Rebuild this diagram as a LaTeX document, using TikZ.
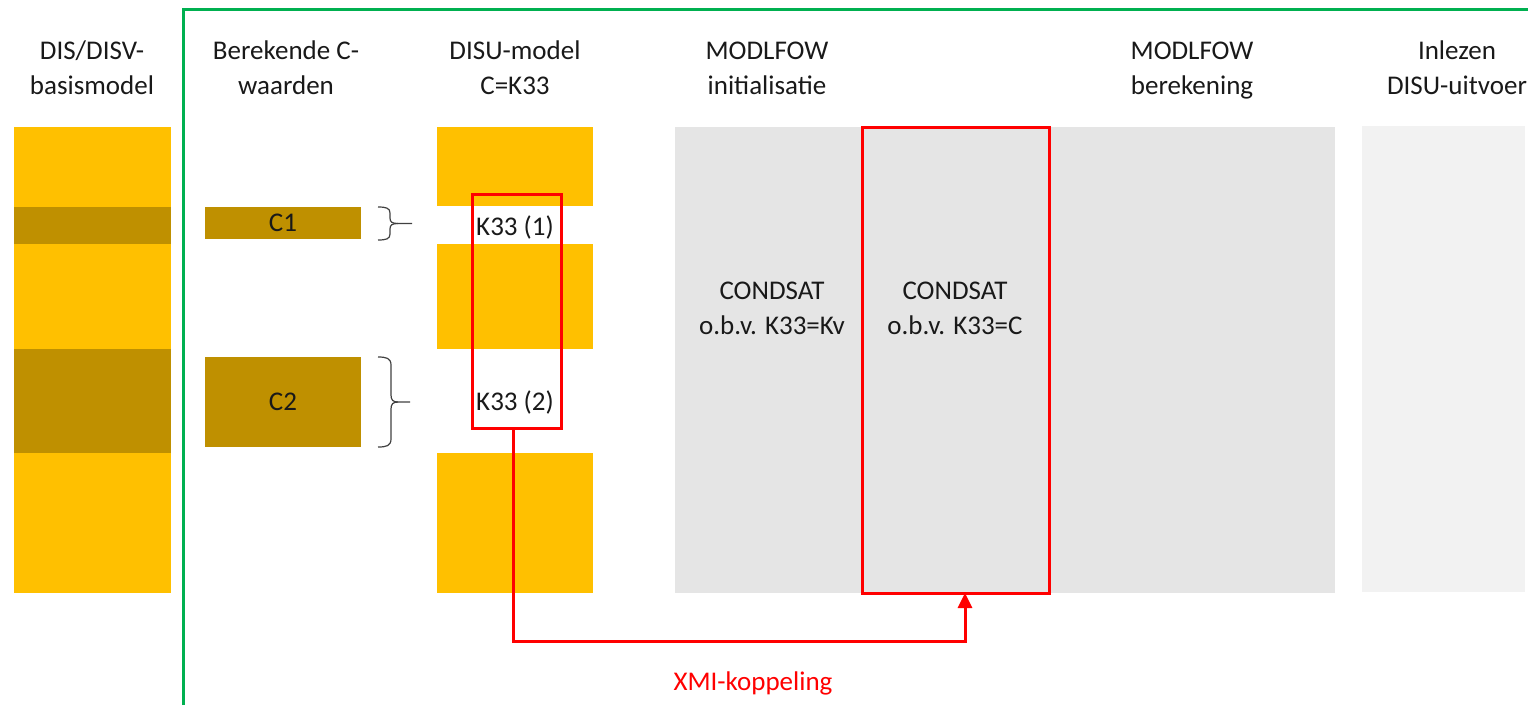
\documentclass[tikz,border=0pt]{standalone}
\usepackage{fontspec}
\setmainfont{Carlito}
\usetikzlibrary{arrows.meta}
\definecolor{gold}{HTML}{FFC000}
\definecolor{dgold}{HTML}{BF9000}
\definecolor{lgray}{HTML}{E5E5E5}
\definecolor{vlgray}{HTML}{F2F2F2}
\definecolor{framegreen}{HTML}{00B050}
\definecolor{xred}{HTML}{FF0000}
\begin{document}
\begin{tikzpicture}[x=1pt,y=-1pt,
  box/.style={inner sep=0pt, outer sep=0pt, anchor=north west, draw=none},
  lbl/.style={font=\fontsize{27}{35}\selectfont, align=center, text=black!90, inner sep=0pt},
  redbox/.style={box, draw=xred, line width=3pt, fill=none},
  bracecurve/.style={draw=black!75, line width=1.2pt}]
\useasboundingbox (0,0) rectangle (1528,705);
% green frame
\draw[framegreen, line width=3pt] (183,705) -- (183,9) -- (1528,9);
% headers
\node[lbl] (h1) at (92,68) {DIS/DISV-\\basismodel};
\node[lbl] (h2) at (286,68) {Berekende C-\\waarden};
\node[lbl] (h3) at (515,68) {DISU-model\\C=K33};
\node[lbl] (h4) at (767,68) {MODLFOW\\initialisatie};
\node[lbl] (h5) at (1192,71) {MODLFOW\\berekening};
\node[lbl] (h6) at (1457,68) {Inlezen\\DISU-uitvoer};
% DIS/DISV column
\node[box, fill=gold, minimum width=157pt, minimum height=466pt] (dis) at (14,127) {};
\node[box, fill=dgold, minimum width=157pt, minimum height=37pt] (disband1) at (14,207) {};
\node[box, fill=dgold, minimum width=157pt, minimum height=104pt] (disband2) at (14,349) {};
% C values
\node[box, fill=dgold, minimum width=156pt, minimum height=32pt] (c1) at (205,207) {};
\node[lbl] (c1t) at (c1.center) {C1};
\node[box, fill=dgold, minimum width=156pt, minimum height=90pt] (c2) at (205,357) {};
\node[lbl] (c2t) at (c2.center) {C2};
% braces
\draw[bracecurve] (378,207) .. controls (386,207) and (390,208) .. (390,213) -- (390,218)
  .. controls (390,222) and (392,223.5) .. (398,223.5) -- (412,223.5);
\draw[bracecurve] (398,223.5) .. controls (392,223.5) and (390,225) .. (390,229) -- (390,234)
  .. controls (390,239) and (386,240) .. (378,240);
\draw[bracecurve] (378,357) .. controls (386,357) and (391,358) .. (391,365) -- (391,395)
  .. controls (391,400) and (393,402) .. (398,402) -- (410,402);
\draw[bracecurve] (398,402) .. controls (393,402) and (391,404) .. (391,409) -- (391,439)
  .. controls (391,446) and (386,447) .. (378,447);
% DISU column
\node[box, fill=gold, minimum width=156pt, minimum height=79pt] (du1) at (437,127) {};
\node[box, fill=gold, minimum width=156pt, minimum height=105pt] (du2) at (437,244) {};
\node[box, fill=gold, minimum width=156pt, minimum height=140pt] (du3) at (437,453) {};
\node[lbl] (k1) at (515,227) {K33 (1)};
\node[lbl] (k2) at (515,402) {K33 (2)};
\node[redbox, minimum width=89pt, minimum height=234pt] (k33) at (472,194) {};
% MODFLOW columns
\node[box, fill=lgray, minimum width=660pt, minimum height=466pt] (mf) at (675,127) {};
\node[box, fill=vlgray, minimum width=163pt, minimum height=466pt] (inl) at (1362,126) {};
\node[lbl] (cs1) at (772,308) {CONDSAT\\o.b.v. K33=Kv};
\node[lbl] (cs2) at (955,308) {CONDSAT\\o.b.v. K33=C};
\node[redbox, minimum width=187pt, minimum height=466pt] (cond) at (862,127) {};
% XMI coupling
\coordinate (bend) at (513,641);
\coordinate (tipT) at (965,593);
\draw[xred, line width=3pt, -{Triangle[length=15pt,width=14pt]}]
  (k33.south -| bend) -- (bend) -| (tipT);
\node[lbl, text=xred] (xmi) at (753,683) {XMI-koppeling};
\end{tikzpicture}
\end{document}
